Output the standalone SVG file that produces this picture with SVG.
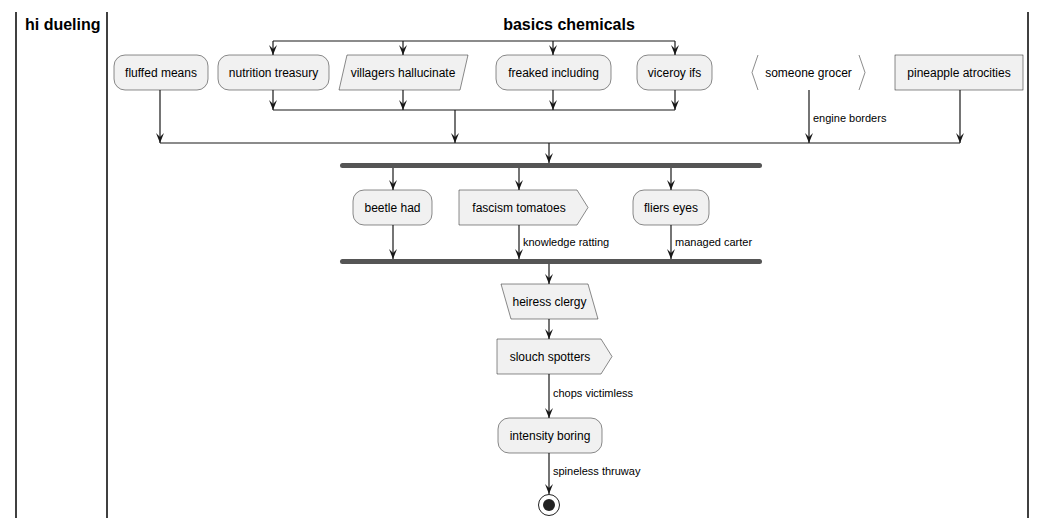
<svg xmlns="http://www.w3.org/2000/svg" width="1046" height="527" viewBox="0 0 1046 527">
<style>
.n{fill:#F1F1F1;stroke:#181818;stroke-width:0.5}
.t{font-family:"Liberation Sans",Arial,sans-serif;font-size:12px;fill:#000;text-anchor:middle}
.l{font-family:"Liberation Sans",Arial,sans-serif;font-size:11px;fill:#000}
.h{font-family:"Liberation Sans",Arial,sans-serif;font-size:16px;font-weight:bold;fill:#000}
.e{stroke:#181818;stroke-width:1.2;fill:none}
.lane{stroke:#000;stroke-width:1.5}
.bar{fill:#555555;stroke:none}
</style>
<defs>
<marker id="a" viewBox="0 0 10 10" refX="10" refY="5" markerWidth="10" markerHeight="10" markerUnits="userSpaceOnUse" orient="auto">
<path d="M0,1 L10,5 L0,9 L4,5 Z" fill="#181818"/>
</marker>
</defs>
<g id="lanes">
<line class="lane" x1="16" y1="12" x2="16" y2="518"/>
<line class="lane" x1="107" y1="12" x2="107" y2="518"/>
<line class="lane" x1="1028" y1="12" x2="1028" y2="518"/>
<text class="h" x="25" y="30">hi dueling</text>
<text class="h" x="569" y="30" text-anchor="middle">basics chemicals</text>
</g>
<g id="connectors">
<path class="e" d="M273,41 H675"/>
<path class="e" d="M273,41 V55" marker-end="url(#a)"/>
<path class="e" d="M403,41 V55" marker-end="url(#a)"/>
<path class="e" d="M553,41 V55" marker-end="url(#a)"/>
<path class="e" d="M675,41 V55" marker-end="url(#a)"/>
<path class="e" d="M273,90 V110" marker-end="url(#a)"/>
<path class="e" d="M403,90 V110" marker-end="url(#a)"/>
<path class="e" d="M553,90 V110" marker-end="url(#a)"/>
<path class="e" d="M675,90 V110" marker-end="url(#a)"/>
<path class="e" d="M273,110 H675"/>
<path class="e" d="M455,110 V143" marker-end="url(#a)"/>
<path class="e" d="M160,90 V143" marker-end="url(#a)"/>
<path class="e" d="M809,90 V143" marker-end="url(#a)"/>
<text class="l" x="813" y="122">engine borders</text>
<path class="e" d="M960,90 V143" marker-end="url(#a)"/>
<path class="e" d="M160,143 H960"/>
<path class="e" d="M549,143 V163" marker-end="url(#a)"/>
<path class="e" d="M393,168 V190" marker-end="url(#a)"/>
<path class="e" d="M519,168 V190" marker-end="url(#a)"/>
<path class="e" d="M671,168 V190" marker-end="url(#a)"/>
<path class="e" d="M393,225 V259" marker-end="url(#a)"/>
<path class="e" d="M519,225 V259" marker-end="url(#a)"/>
<text class="l" x="523" y="246">knowledge ratting</text>
<path class="e" d="M671,225 V259" marker-end="url(#a)"/>
<text class="l" x="675" y="246">managed carter</text>
<path class="e" d="M549,264 V284" marker-end="url(#a)"/>
<path class="e" d="M549,319 V339" marker-end="url(#a)"/>
<path class="e" d="M549,374 V418" marker-end="url(#a)"/>
<text class="l" x="553" y="397">chops victimless</text>
<path class="e" d="M549,453 V494" marker-end="url(#a)"/>
<text class="l" x="553" y="475">spineless thruway</text>
</g>
<g id="fluffed_means"><rect class="n" x="114" y="55" width="94" height="35" rx="11"/><text class="t" x="161" y="77">fluffed means</text></g>
<g id="nutrition_treasury"><rect class="n" x="218" y="55" width="111" height="35" rx="11"/><text class="t" x="273.5" y="77">nutrition treasury</text></g>
<g id="villagers_hallucinate"><polygon class="n" points="347,55 468,55 460,90 339,90"/><text class="t" x="403" y="77">villagers hallucinate</text></g>
<g id="freaked_including"><rect class="n" x="496" y="55" width="115" height="35" rx="11"/><text class="t" x="553.5" y="77">freaked including</text></g>
<g id="viceroy_ifs"><rect class="n" x="637" y="55" width="75" height="35" rx="11"/><text class="t" x="674.5" y="77">viceroy ifs</text></g>
<g id="someone_grocer"><polyline points="758,55 752,72.5 758,90" fill="none" stroke="#181818" stroke-width="0.5"/><polyline points="859,55 865,72.5 859,90" fill="none" stroke="#181818" stroke-width="0.5"/><text class="t" x="808.5" y="77">someone grocer</text></g>
<g id="pineapple_atrocities"><rect class="n" x="895" y="55" width="128" height="35"/><text class="t" x="959" y="77">pineapple atrocities</text></g>
<g id="fork"><rect class="bar" x="340" y="163" width="422" height="5" rx="2.5"/></g>
<g id="beetle_had"><rect class="n" x="353" y="190" width="79" height="35" rx="11"/><text class="t" x="392.5" y="212">beetle had</text></g>
<g id="fascism_tomatoes"><polygon class="n" points="459,190 577,190 588,207.5 577,225 459,225"/><text class="t" x="519" y="212">fascism tomatoes</text></g>
<g id="fliers_eyes"><rect class="n" x="633" y="190" width="76" height="35" rx="11"/><text class="t" x="671" y="212">fliers eyes</text></g>
<g id="join"><rect class="bar" x="340" y="259" width="422" height="5" rx="2.5"/></g>
<g id="heiress_clergy"><polygon class="n" points="501,284 588,284 598,319 511,319"/><text class="t" x="549.5" y="306">heiress clergy</text></g>
<g id="slouch_spotters"><polygon class="n" points="497,339 601,339 612,356.5 601,374 497,374"/><text class="t" x="550" y="361">slouch spotters</text></g>
<g id="intensity_boring"><rect class="n" x="498" y="418" width="104" height="35" rx="11"/><text class="t" x="550" y="440">intensity boring</text></g>
<g id="end"><circle cx="549" cy="505" r="10.5" fill="#fff" stroke="#222" stroke-width="1"/><circle cx="549" cy="505" r="6" fill="#222"/></g>
</svg>
